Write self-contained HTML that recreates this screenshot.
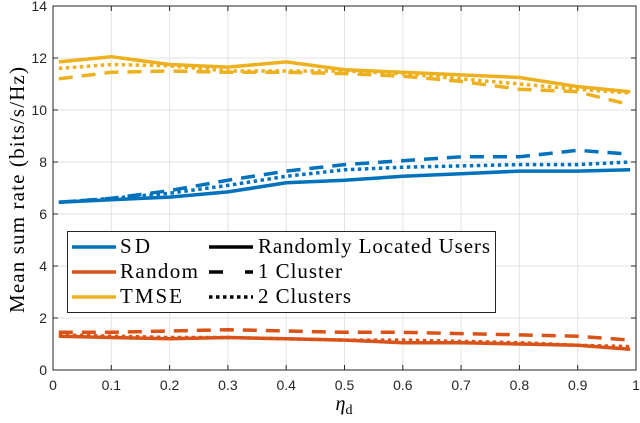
<!DOCTYPE html>
<html><head><meta charset="utf-8"><style>
body{margin:0;background:#fff}
svg text{font-family:"Liberation Sans",sans-serif;fill:#262626}
</style></head><body>
<svg id="c" width="640" height="418"></svg>
<script>
const xs=[0.01,0.1,0.2,0.3,0.4,0.5,0.6,0.7,0.8,0.9,0.99];
const sdSolid=[6.45,6.55,6.65,6.85,7.2,7.3,7.45,7.55,7.65,7.65,7.7];
const sdDash=[6.45,6.6,6.9,7.3,7.65,7.9,8.05,8.2,8.2,8.45,8.3];
const sdDot=[6.45,6.6,6.8,7.1,7.45,7.7,7.8,7.85,7.9,7.9,8.0];
const rndSolid=[1.3,1.25,1.2,1.25,1.2,1.15,1.05,1.05,1.0,0.95,0.8];
const rndDash=[1.45,1.45,1.5,1.55,1.5,1.45,1.45,1.4,1.35,1.3,1.15];
const rndDot=[1.35,1.3,1.25,1.25,1.2,1.15,1.15,1.1,1.05,0.95,0.9];
const tmSolid=[11.85,12.05,11.75,11.65,11.85,11.55,11.45,11.35,11.25,10.9,10.7];
const tmDash=[11.2,11.45,11.5,11.45,11.45,11.4,11.3,11.1,10.8,10.7,10.2];
const tmDot=[11.6,11.75,11.7,11.5,11.5,11.5,11.4,11.2,11.0,10.8,10.65];
const xTicks=[0,0.1,0.2,0.3,0.4,0.5,0.6,0.7,0.8,0.9,1];
const yTicks=[0,2,4,6,8,10,12,14];
const L=53,R=636,T=6,B=370;
const X=v=>L+(R-L)*v, Y=v=>B-(B-T)*v/14;
const s=document.getElementById('c'),NS='http://www.w3.org/2000/svg';
function mk(t,a,p){const e=document.createElementNS(NS,t);for(const k in a)e.setAttribute(k,a[k]);(p||s).appendChild(e);return e;}
xTicks.forEach(v=>{const g=mk('line',{x1:X(v),x2:X(v),y1:T,y2:B,stroke:'#e3e3e3'});

const t=mk('text',{x:X(v),y:B+20,'text-anchor':'middle','font-size':14});t.textContent=String(v);
});
yTicks.forEach(v=>{const g=mk('line',{x1:L,x2:R,y1:Y(v),y2:Y(v),stroke:'#e3e3e3'});

const t=mk('text',{x:L-6,y:Y(v)+5,'text-anchor':'end','font-size':14});t.textContent=String(v);
});
const ax=mk('rect',{x:L,y:T,width:R-L,height:B-T,fill:'none',stroke:'#262626'});

xTicks.forEach(v=>{mk('line',{x1:X(v),x2:X(v),y1:B,y2:B-5,stroke:'#262626'});mk('line',{x1:X(v),x2:X(v),y1:T,y2:T+5,stroke:'#262626'});});
yTicks.forEach(v=>{mk('line',{x1:L,x2:L+5,y1:Y(v),y2:Y(v),stroke:'#262626'});mk('line',{x1:R,x2:R-5,y1:Y(v),y2:Y(v),stroke:'#262626'});});
const BL='#0072BD',OR='#D95319',YE='#EDB120',DASH='14 9',DOT='3.5 3.5';
const series=[[sdSolid,BL,'','sd-solid'],[sdDash,BL,DASH,'sd-1-cluster'],[sdDot,BL,DOT,'sd-2-clusters'],
[rndSolid,OR,'','random-solid'],[rndDash,OR,DASH,'random-1-cluster'],[rndDot,OR,DOT,'random-2-clusters'],
[tmSolid,YE,'','tmse-solid'],[tmDash,YE,DASH,'tmse-1-cluster'],[tmDot,YE,DOT,'tmse-2-clusters']];
series.forEach(([d,c,da,n])=>{const p=mk('polyline',{points:d.map((v,i)=>X(xs[i])+','+Y(v)).join(' '),fill:'none',stroke:c,'stroke-width':3.5,'stroke-dasharray':da||'none'});
});
</script>
<svg width="640" height="418" style="position:absolute;left:0;top:0">
<g font-size="21">
<rect x="67.5" y="231.5" width="428" height="81" fill="#fff" stroke="#262626"/>
<line x1="72" y1="247" x2="116" y2="247" stroke="#0072BD" stroke-width="3.5"/>
<text x="120" y="253" textLength="30" style="font-family:'Liberation Serif',serif;fill:#000">SD</text>
<line x1="72" y1="272" x2="116" y2="272" stroke="#D95319" stroke-width="3.5"/>
<text x="120" y="278" textLength="78" style="font-family:'Liberation Serif',serif;fill:#000">Random</text>
<line x1="72" y1="297" x2="116" y2="297" stroke="#EDB120" stroke-width="3.5"/>
<text x="120" y="303" textLength="62" style="font-family:'Liberation Serif',serif;fill:#000">TMSE</text>
<line x1="209" y1="247" x2="253" y2="247" stroke="#000" stroke-width="3.5"/>
<text x="258" y="253" textLength="232" style="font-family:'Liberation Serif',serif;fill:#000">Randomly Located Users</text>
<line x1="209" y1="272" x2="253" y2="272" stroke="#000" stroke-width="3.5" stroke-dasharray="14 22"/>
<text x="258" y="278" textLength="84" style="font-family:'Liberation Serif',serif;fill:#000">1 Cluster</text>
<line x1="209" y1="297" x2="253" y2="297" stroke="#000" stroke-width="3.5" stroke-dasharray="3.5 3.5"/>
<text x="258" y="303" textLength="93" style="font-family:'Liberation Serif',serif;fill:#000">2 Clusters</text>
</g>
<text transform="translate(24,190) rotate(-90)" text-anchor="middle" font-size="21" textLength="246" style="font-family:'Liberation Serif',serif;fill:#000">Mean sum rate (bits/s/Hz)</text>
<text x="344" y="410" text-anchor="middle" font-size="20" font-style="italic" style="font-family:'Liberation Serif',serif;fill:#000">η<tspan font-size="14" font-style="normal" dy="4">d</tspan></text>
</svg>
</body></html>
